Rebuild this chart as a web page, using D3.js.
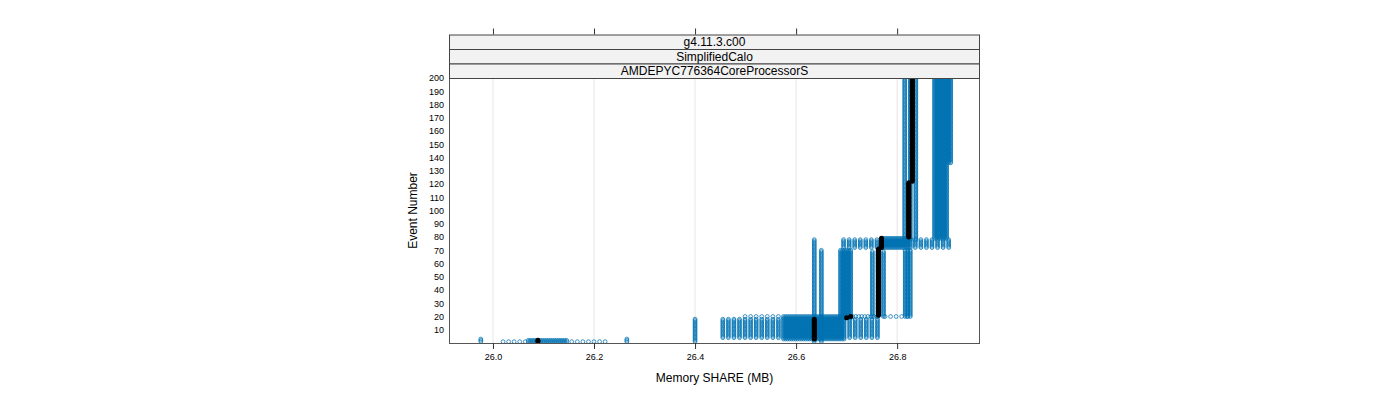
<!DOCTYPE html>
<html>
<head>
<meta charset="utf-8">
<script src="https://cdn.jsdelivr.net/npm/d3@7"></script>
<style>
  html, body { margin: 0; padding: 0; background: #fff; }
  svg { display: block; }
  text { font-family: "Liberation Sans", Arial, sans-serif; fill: #000; }
</style>
</head>
<body>
<svg id="chart" width="1400" height="400"></svg>
<script>
// ---------------- data ----------------
const stripLabels = ["g4.11.3.c00", "SimplifiedCalo", "AMDEPYC776364CoreProcessorS"];
const xTickValues = [26.0, 26.2, 26.4, 26.6, 26.8];
const xTickLabels = ["26.0", "26.2", "26.4", "26.6", "26.8"];
const yTickValues = [10, 20, 30, 40, 50, 60, 70, 80, 90, 100, 110, 120, 130, 140, 150, 160, 170, 180, 190, 200];

// observed memory values (MB) for groups of runs
const memStartLeft  = [26.020, 26.031, 26.042, 26.053, 26.064];
const memStartCore  = [26.070, 26.074, 26.078, 26.082, 26.086, 26.090, 26.094, 26.098, 26.102, 26.106,
                       26.110, 26.114, 26.118, 26.122, 26.126, 26.130, 26.134, 26.138, 26.142, 26.146];
const memStartRight = [26.156, 26.167, 26.178, 26.189, 26.200, 26.211, 26.222];
const memStartLone  = [25.976, 26.265];
const memCol400     = [26.400];
const memBandLeft   = [26.455, 26.466, 26.477, 26.488, 26.499, 26.510, 26.521, 26.532, 26.543, 26.554, 26.565];
const memBandCore   = [26.575, 26.579, 26.583, 26.587, 26.591, 26.595, 26.599, 26.603, 26.607, 26.611,
                       26.615, 26.619, 26.623, 26.627, 26.631, 26.635, 26.639, 26.643, 26.647, 26.651,
                       26.655, 26.659, 26.663, 26.667, 26.671, 26.675, 26.679, 26.683, 26.687, 26.691, 26.695];
const memBandRight  = [26.706, 26.717, 26.728, 26.739, 26.750, 26.761];
const memRow20Left  = [26.499, 26.510, 26.521, 26.532, 26.543, 26.554, 26.565];
const memRow20Mid   = [26.700, 26.706, 26.712, 26.718, 26.724, 26.730, 26.736, 26.742, 26.748, 26.754, 26.760];
const memRow20Right = [26.776, 26.787, 26.798, 26.809, 26.820];
const memCol636     = [26.636];
const memCol650     = [26.650];
const memCol700     = [26.688, 26.692, 26.696, 26.700, 26.704, 26.708];
const memCol765     = [26.751, 26.762, 26.773];
const memRow75Left  = [26.694, 26.705, 26.716, 26.727, 26.738, 26.749, 26.760];
const memRow75Core  = [26.770, 26.774, 26.778, 26.782, 26.786, 26.790, 26.794, 26.798, 26.802, 26.806,
                       26.810, 26.814, 26.818, 26.822, 26.826];
const memRow75Right = [26.836, 26.847, 26.858, 26.869, 26.880, 26.891, 26.902];
const memCol820     = [26.816, 26.821, 26.826];
const memTopLeft    = [26.815, 26.826, 26.837];
const memTopRight   = [26.874, 26.878, 26.882, 26.886, 26.890, 26.894, 26.898];
const memTopEdge    = [26.902, 26.906];

// event ranges of each group (first event, last event)
const groupValues = [memStartLeft, memStartCore, memStartRight, memStartLone, memCol400,
                     memBandLeft, memBandCore, memBandRight, memRow20Left, memBandCore, memRow20Mid, memRow20Right,
                     memCol636, memCol650, memCol700, memCol765,
                     memRow75Left, memRow75Core, memRow75Right, memCol820,
                     memTopLeft, memTopRight, memTopEdge];
const groupFrom = [1, 1, 1, 1, 1,   4, 3, 4, 20, 20, 20, 20,   1, 1, 19, 20,   72, 72, 72, 20,   78, 79, 136];
const groupTo   = [1, 2, 1, 3, 18, 18, 19, 18, 20, 20, 20, 20,  78, 70, 70, 69,   78, 79, 78, 70,  200, 200, 200];

// median memory per event
const medianFrom = [1, 3, 19, 20, 21, 72, 80, 122];
const medianTo   = [2, 18, 19, 20, 71, 79, 121, 200];
const medianMem  = [26.089, 26.636, 26.700, 26.708, 26.763, 26.769, 26.823, 26.830];

// ---------------- drawing ----------------
const svg = d3.select("#chart");
const panel = { left: 449, right: 980, top: 78, bottom: 343 };
const stripH = 14.5;
const blue = "#0072B2";

const x = d3.scaleLinear().domain([25.913, 26.964]).range([panel.left, panel.right]);
const y = d3.scaleLinear().domain([0, 200]).range([panel.bottom, panel.top]);

svg.append("defs").append("clipPath").attr("id", "clip")
  .append("rect").attr("x", panel.left).attr("y", panel.top)
  .attr("width", panel.right - panel.left).attr("height", panel.bottom - panel.top);

// grid
svg.append("g").selectAll("line").data(xTickValues).join("line")
  .attr("x1", d => x(d)).attr("x2", d => x(d))
  .attr("y1", panel.top).attr("y2", panel.bottom)
  .attr("stroke", "#e6e6e6").attr("stroke-width", 1);

// points
const pts = [];
groupValues.forEach((vals, i) => {
  for (let e = groupFrom[i]; e <= groupTo[i]; e++) {
    vals.forEach(v => pts.push({ e, v }));
  }
});
const pg = svg.append("g").attr("clip-path", "url(#clip)");
pg.selectAll("circle").data(pts).join("circle")
  .attr("cx", d => x(d.v)).attr("cy", d => y(d.e)).attr("r", 1.9)
  .attr("fill", "none").attr("stroke", blue).attr("stroke-width", 0.75);

// median
const med = [];
medianMem.forEach((v, i) => {
  for (let e = medianFrom[i]; e <= medianTo[i]; e++) med.push({ e, v });
});
pg.append("g").selectAll("circle").data(med).join("circle")
  .attr("cx", d => x(d.v)).attr("cy", d => y(d.e)).attr("r", 2.5)
  .attr("fill", "#000");

// panel border
svg.append("rect").attr("x", panel.left + 0.5).attr("y", panel.top + 0.5)
  .attr("width", panel.right - panel.left - 1).attr("height", panel.bottom - panel.top)
  .attr("fill", "none").attr("stroke", "#555");

// strips
stripLabels.forEach((lab, i) => {
  const top = panel.top - stripH * (stripLabels.length - i);
  svg.append("rect").attr("x", panel.left + 0.5).attr("y", top + 0.5)
    .attr("width", panel.right - panel.left - 1).attr("height", stripH)
    .attr("fill", "#f2f2f2").attr("stroke", "#444");
  svg.append("text").attr("x", (panel.left + panel.right) / 2).attr("y", top + stripH / 2 + 0.5)
    .attr("text-anchor", "middle").attr("dominant-baseline", "central")
    .attr("font-size", 12).text(lab);
});

// bottom axis
const xAxis = d3.axisBottom(x).tickValues(xTickValues).tickFormat((d, i) => xTickLabels[i])
  .tickSize(6).tickPadding(5);
const gx = svg.append("g").attr("transform", `translate(0,${panel.bottom})`).call(xAxis);
gx.select(".domain").remove();
gx.selectAll("line").attr("stroke", "#333");
gx.selectAll("text").attr("font-size", 9).attr("font-family", "Liberation Sans, Arial, sans-serif");

// top axis (ticks only)
const stripTop = panel.top - stripH * stripLabels.length;
const xTop = d3.axisTop(x).tickValues(xTickValues).tickFormat("").tickSize(6);
const gt = svg.append("g").attr("transform", `translate(0,${stripTop})`).call(xTop);
gt.select(".domain").remove();
gt.selectAll("line").attr("stroke", "#333");

// left axis (labels only)
const yAxis = d3.axisLeft(y).tickValues(yTickValues).tickSize(0).tickPadding(5);
const gy = svg.append("g").attr("transform", `translate(${panel.left},0)`).call(yAxis);
gy.select(".domain").remove();
gy.selectAll("text").attr("font-size", 9).attr("font-family", "Liberation Sans, Arial, sans-serif");

// axis titles
svg.append("text").attr("x", (panel.left + panel.right) / 2).attr("y", 382)
  .attr("text-anchor", "middle").attr("font-size", 12).text("Memory SHARE (MB)");
svg.append("text").attr("transform", `translate(417,${(panel.top + panel.bottom) / 2}) rotate(-90)`)
  .attr("text-anchor", "middle").attr("font-size", 12).text("Event Number");
</script>
</body>
</html>
